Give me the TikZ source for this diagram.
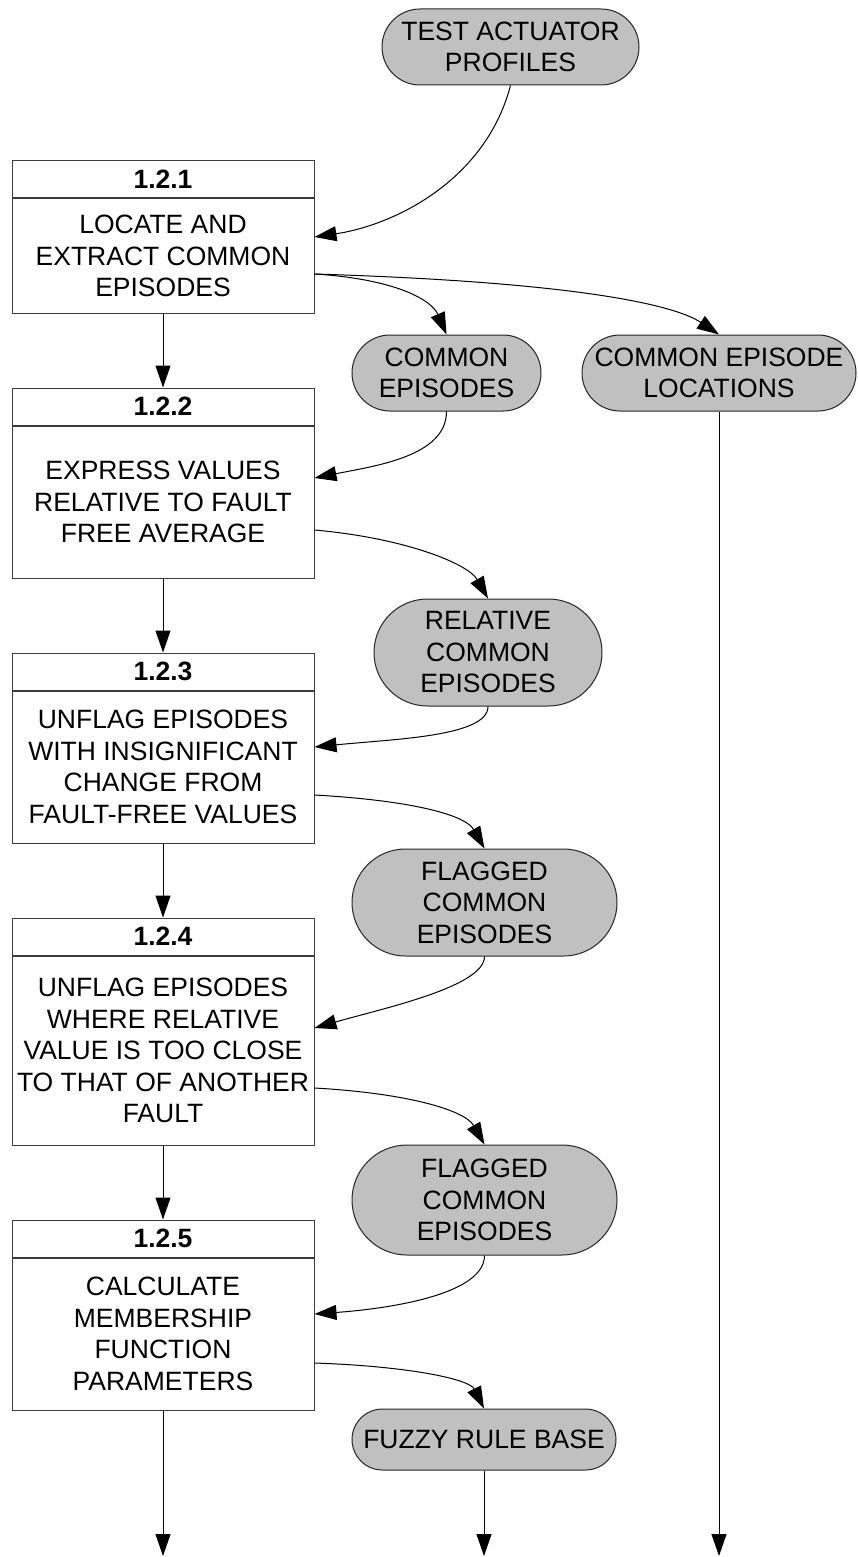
\documentclass[tikz,border=0pt]{standalone}
\usepackage{fontspec}
\setmainfont{Liberation Sans}
\usetikzlibrary{arrows.meta}
\definecolor{termfill}{RGB}{192,192,192}
\definecolor{boxline}{RGB}{60,60,60}
\begin{document}
\begin{tikzpicture}[x=1pt,y=-1pt,
  every node/.style={font=\fontsize{26.5}{31.5}\selectfont, inner sep=0pt, align=center},
  hdr/.style={draw=boxline, line width=1pt, minimum width=302pt, minimum height=37pt,
    font=\fontsize{26.5}{31.5}\selectfont\bfseries},
  body/.style={draw=boxline, line width=1pt, minimum width=302pt, anchor=north},
  term/.style={draw=black!85, line width=1pt, fill=termfill},
  flow/.style={line width=1pt, -{Triangle[length=22pt,width=15pt]}},
]
\useasboundingbox (0,0) rectangle (857,1557);

% process boxes
\node[hdr] (h1) at (163,179.5) {1.2.1};
\node[body, minimum height=114pt] (b1) at (h1.south) {LOCATE AND\\EXTRACT COMMON\\EPISODES};
\node[hdr] (h2) at (163,406.5) {1.2.2};
\node[body, minimum height=152pt] (b2) at (h2.south) {EXPRESS VALUES\\RELATIVE TO FAULT\\FREE AVERAGE};
\node[hdr] (h3) at (163,671.5) {1.2.3};
\node[body, minimum height=152pt] (b3) at (h3.south) {UNFLAG EPISODES\\WITH INSIGNIFICANT\\CHANGE FROM\\FAULT-FREE VALUES};
\node[hdr] (h4) at (163,936.5) {1.2.4};
\node[body, minimum height=189pt] (b4) at (h4.south) {UNFLAG EPISODES\\WHERE RELATIVE\\VALUE IS TOO CLOSE\\TO THAT OF ANOTHER\\FAULT};
\node[hdr] (h5) at (163,1238.5) {1.2.5};
\node[body, minimum height=152pt] (b5) at (h5.south) {CALCULATE\\MEMBERSHIP\\FUNCTION\\PARAMETERS};

% data terminators
\node[term, minimum width=257pt, minimum height=76pt, rounded corners=38pt] (tap) at (510.5,47) {TEST ACTUATOR\\PROFILES};
\node[term, minimum width=189pt, minimum height=76pt, rounded corners=38pt] (ce) at (446.5,373) {COMMON\\EPISODES};
\node[term, minimum width=274pt, minimum height=76pt, rounded corners=38pt] (cel) at (719,373) {COMMON EPISODE\\LOCATIONS};
\node[term, minimum width=228pt, minimum height=107pt, rounded corners=53.5pt] (rel) at (488,652.5) {RELATIVE\\COMMON\\EPISODES};
\node[term, minimum width=265pt, minimum height=107pt, rounded corners=53.5pt] (fl1) at (484.5,902.5) {FLAGGED\\COMMON\\EPISODES};
\node[term, minimum width=265pt, minimum height=110pt, rounded corners=55pt] (fl2) at (484.5,1200) {FLAGGED\\COMMON\\EPISODES};
\node[term, minimum width=264pt, minimum height=61pt, rounded corners=30.5pt] (fz) at (484,1439.5) {FUZZY RULE BASE};

\coordinate (out1) at (163,1556);
\coordinate (out2) at (484,1556);
\coordinate (out3) at (719,1556);

% vertical flows
\draw[flow] (b1.south) -- (h2.north);
\draw[flow] (b2.south) -- (h3.north);
\draw[flow] (b3.south) -- (h4.north);
\draw[flow] (b4.south) -- (h5.north);
\draw[flow] (b5.south) -- (out1);
\draw[flow] (fz.south) -- (out2);
\draw[flow] (cel.south) -- (out3);

% curved flows
\draw[flow] (tap.south) .. controls +(-25,95) and +(80,-12) .. (b1.east |- 0,237);
\draw[flow] (b1.east |- 0,274) .. controls +(80,5) and +(-15,-35) .. (ce.north);
\draw[flow] (b1.east |- 0,274) .. controls +(260,8) and +(-45,-30) .. (cel.north);
\draw[flow] (ce.south) .. controls +(0,45) and +(60,-12) .. (b2.east |- 0,478);
\draw[flow] (b2.east |- 0,530) .. controls +(90,8) and +(-20,-35) .. (rel.north);
\draw[flow] (rel.south) .. controls +(0,30) and +(80,-8) .. (b3.east |- 0,747);
\draw[flow] (b3.east |- 0,795) .. controls +(90,5) and +(-20,-35) .. (fl1.north);
\draw[flow] (fl1.south) .. controls +(0,30) and +(70,-20) .. (b4.east |- 0,1028);
\draw[flow] (b4.east |- 0,1088) .. controls +(90,5) and +(-20,-35) .. (fl2.north);
\draw[flow] (fl2.south) .. controls +(0,40) and +(70,-5) .. (b5.east |- 0,1314);
\draw[flow] (b5.east |- 0,1363) .. controls +(90,3) and +(-15,-30) .. (fz.north);
\end{tikzpicture}
\end{document}
